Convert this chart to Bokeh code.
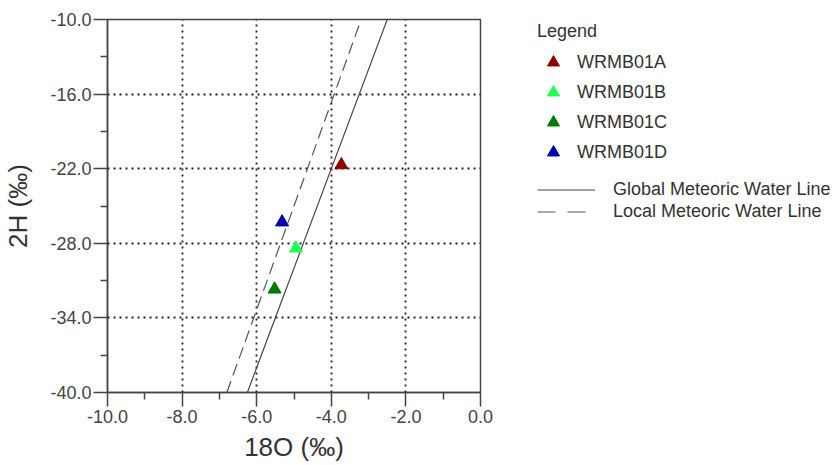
from bokeh.plotting import figure
from bokeh.models import (ColumnDataSource, Legend, LegendItem, FixedTicker,
                          PrintfTickFormatter, Range1d)
from bokeh.layouts import row
from bokeh.embed import file_html
from bokeh.resources import INLINE

# ---- data ----
samples = ["WRMB01A", "WRMB01B", "WRMB01C", "WRMB01D"]
d18o = [-3.73, -4.95, -5.52, -5.32]
d2h = [-21.7, -28.4, -31.7, -26.3]
colors = ["#8B0000", "#22FF55", "#007A00", "#0000AA"]

gmwl_x = [-6.25, -2.5]
gmwl_y = [-40.0, -10.0]
lmwl_x = [-6.8, -3.2]
lmwl_y = [-40.0, -10.0]
line_names = ["Global Meteoric Water Line", "Local Meteoric Water Line"]

x_ticks = [-10.0, -8.0, -6.0, -4.0, -2.0, 0.0]
x_minor = [-9.0, -7.0, -5.0, -3.0, -1.0]
y_ticks = [-40.0, -34.0, -28.0, -22.0, -16.0, -10.0]
y_minor = [-37.0, -31.0, -25.0, -19.0, -13.0]

FONT = "Liberation Sans"


def draw_series(fig, dash):
    rg = fig.line(gmwl_x, gmwl_y, line_color="#444444", line_width=1.2)
    rl = fig.line(lmwl_x, lmwl_y, line_color="#555555", line_width=1.2,
                  line_dash=dash)
    pts = []
    for s, x, y, c in zip(samples, d18o, d2h, colors):
        src = ColumnDataSource(dict(x=[x], y=[y]))
        r = fig.scatter("x", "y", source=src, marker="triangle", size=13,
                        fill_color=c, line_color=c, line_width=1)
        pts.append((s, r))
    return rg, rl, pts


# ---- main plot ----
p = figure(width=530, height=465, output_backend="svg", toolbar_location=None,
           x_range=Range1d(-10, 0), y_range=Range1d(-40, -10),
           min_border_left=107, min_border_right=50,
           min_border_top=19, min_border_bottom=73)
p.background_fill_color = "white"
p.border_fill_color = "white"
p.outline_line_color = "#444444"
p.outline_line_width = 1.5

draw_series(p, "12 6")

for ax in (p.xaxis[0], p.yaxis[0]):
    ax.axis_line_color = "#444444"
    ax.axis_line_width = 1.5
    ax.major_tick_line_color = "#444444"
    ax.major_tick_line_width = 1.5
    ax.minor_tick_line_color = "#444444"
    ax.minor_tick_line_width = 1.5
    ax.major_tick_in = 0
    ax.major_tick_out = 14
    ax.minor_tick_in = 0
    ax.minor_tick_out = 7
    ax.major_label_text_font = FONT
    ax.major_label_text_font_size = "18px"
    ax.major_label_text_color = "#444444"
    ax.axis_label_text_font = FONT
    ax.axis_label_text_font_size = "26px"
    ax.axis_label_text_font_style = "normal"
    ax.axis_label_text_color = "#333333"
    ax.formatter = PrintfTickFormatter(format="%.1f")

p.xaxis[0].ticker = FixedTicker(ticks=x_ticks, minor_ticks=x_minor)
p.yaxis[0].ticker = FixedTicker(ticks=y_ticks, minor_ticks=y_minor)
p.xaxis[0].axis_label = "18O (‰)"
p.yaxis[0].axis_label = "2H (‰)"
p.xaxis[0].major_label_standoff = 3
p.xaxis[0].axis_label_standoff = 6
p.yaxis[0].major_label_standoff = 2
p.yaxis[0].axis_label_standoff = 14

for g in (p.xgrid[0], p.ygrid[0]):
    g.grid_line_color = "#222222"
    g.grid_line_width = 1.8
    g.grid_line_dash = "2 4"

# ---- legend panel (series drawn off-view, used only for legend glyphs) ----
lf = figure(width=306, height=465, output_backend="svg", toolbar_location=None,
            x_range=Range1d(100, 101), y_range=Range1d(100, 101),
            min_border=0, min_border_left=0, min_border_right=0,
            min_border_top=0, min_border_bottom=0)
lf.axis.visible = False
lf.grid.visible = False
lf.outline_line_color = None
lf.background_fill_color = "white"
lf.border_fill_color = "white"

lg, ll, lpts = draw_series(lf, "18 12")

leg1 = Legend(items=[LegendItem(label=s, renderers=[r]) for s, r in lpts],
              location=(7, 225), title="Legend",
              title_text_font=FONT, title_text_font_size="18px",
              title_text_font_style="normal", title_text_color="#333333",
              title_standoff=5,
              label_text_font=FONT, label_text_font_size="18px",
              label_text_color="#333333",
              glyph_width=32, glyph_height=30, label_height=30, spacing=0,
              label_standoff=8, padding=0, margin=0,
              border_line_color=None, background_fill_alpha=0)
leg2 = Legend(items=[LegendItem(label=line_names[0], renderers=[lg]),
                     LegendItem(label=line_names[1], renderers=[ll])],
              location=(7, 170),
              label_text_font=FONT, label_text_font_size="18px",
              label_text_color="#333333",
              glyph_width=58, glyph_height=21, label_height=21, spacing=1,
              label_standoff=18, padding=0, margin=0,
              border_line_color=None, background_fill_alpha=0)
lf.add_layout(leg1, "center")
lf.add_layout(leg2, "center")

layout = row(p, lf, spacing=0)
open("out.html", "w").write(file_html(layout, INLINE))
